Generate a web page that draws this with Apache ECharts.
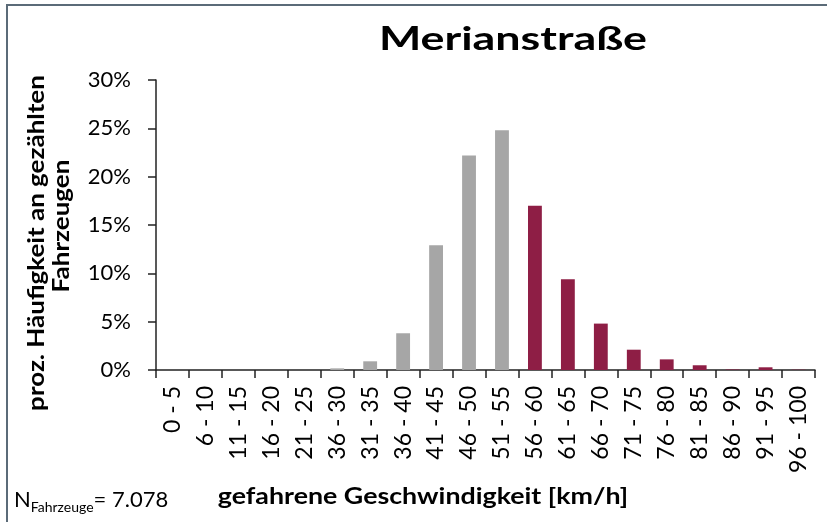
<!DOCTYPE html>
<html>
<head>
<meta charset="utf-8">
<script src="https://cdn.jsdelivr.net/npm/echarts@6/dist/echarts.min.js"></script>
<style>
  html, body { margin: 0; padding: 0; background: #fff; }
  #chart { width: 827px; height: 522px; }
</style>
</head>
<body>
<div id="chart"></div>
<script>
const categories = ["0 - 5", "6 - 10", "11 - 15", "16 - 20", "21 - 25", "36 - 30", "31 - 35", "36 - 40", "41 - 45", "46 - 50",
  "51 - 55", "56 - 60", "61 - 65", "66 - 70", "71 - 75", "76 - 80", "81 - 85", "86 - 90", "91 - 95", "96 - 100"];
const shares = [0, 0, 0, 0, 0, 0.17, 0.9, 3.8, 12.9, 22.2, 24.8, 17.0, 9.4, 4.8, 2.1, 1.1, 0.49, 0.05, 0.28, 0.03];
const yTicks = [0, 5, 10, 15, 20, 25, 30];
const firstFastIndex = 11; // ab 56 km/h rot
const vehicleCount = "7.078";

const FONT = "Lato";
const chart = echarts.init(document.getElementById("chart"));

chart.setOption({
  animation: false,
  textStyle: { fontFamily: FONT },
  grid: { left: 156, right: 12, top: 80, bottom: 152, containLabel: false },
  xAxis: {
    type: "category",
    data: categories,
    axisLine: { lineStyle: { color: "#222", width: 1.5 } },
    axisTick: { show: true, length: 8, lineStyle: { color: "#222", width: 1.5 } },
    axisLabel: { rotate: 90, margin: 16, fontSize: 23, color: "#000", fontFamily: FONT, interval: 0 },
  },
  yAxis: {
    type: "value",
    min: yTicks[0],
    max: yTicks[yTicks.length - 1],
    interval: 5,
    splitLine: { show: false },
    axisLine: { show: true, lineStyle: { color: "#222", width: 1.5 } },
    axisTick: { show: true, length: 8, lineStyle: { color: "#222", width: 1.5 } },
    axisLabel: { formatter: "{value}%", margin: 25, fontSize: 22, color: "#000", fontFamily: FONT },
  },
  series: [
    {
      type: "bar",
      data: shares,
      barWidth: "42%",
      itemStyle: {
        color: (p) => (p.dataIndex < firstFastIndex ? "#A6A6A6" : "#8E1E45"),
      },
    },
  ],
  graphic: [
    {
      type: "rect",
      shape: { x: 7, y: 5, width: 900, height: 600 },
      style: { fill: "none", stroke: "#5B6B78", lineWidth: 2 },
      silent: true,
    },
    {
      type: "text",
      x: 513, y: 39, scaleX: 1.12, scaleY: 0.83,
      style: {
        text: "Merianstraße", font: "bold 40px " + FONT, fill: "#000",
        align: "center", verticalAlign: "middle",
      },
    },
    {
      type: "text",
      x: 37, y: 243, rotation: Math.PI / 2, scaleY: 0.88,
      style: {
        text: "proz. Häufigkeit an gezählten", font: "bold 26px " + FONT, fill: "#000",
        align: "center", verticalAlign: "middle",
      },
    },
    {
      type: "text",
      x: 62, y: 226, rotation: Math.PI / 2, scaleY: 0.88,
      style: {
        text: "Fahrzeugen", font: "bold 26px " + FONT, fill: "#000",
        align: "center", verticalAlign: "middle",
      },
    },
    {
      type: "text",
      x: 423, y: 497, scaleX: 1.03, scaleY: 0.88,
      style: {
        text: "gefahrene Geschwindigkeit [km/h]", font: "bold 26px " + FONT, fill: "#000",
        align: "center", verticalAlign: "middle",
      },
    },
    {
      type: "text",
      x: 14, y: 489,
      style: {
        text: "{n|N}{sub|Fahrzeuge}{n|= " + vehicleCount + "}",
        verticalAlign: "top",
        rich: {
          n: { fontFamily: FONT, fontSize: 22, fill: "#000", verticalAlign: "top", lineHeight: 24 },
          sub: { fontFamily: FONT, fontSize: 14, fill: "#000", padding: [12, 0, 0, 0], lineHeight: 24 },
        },
      },
    },
  ],
});
</script>
</body>
</html>
